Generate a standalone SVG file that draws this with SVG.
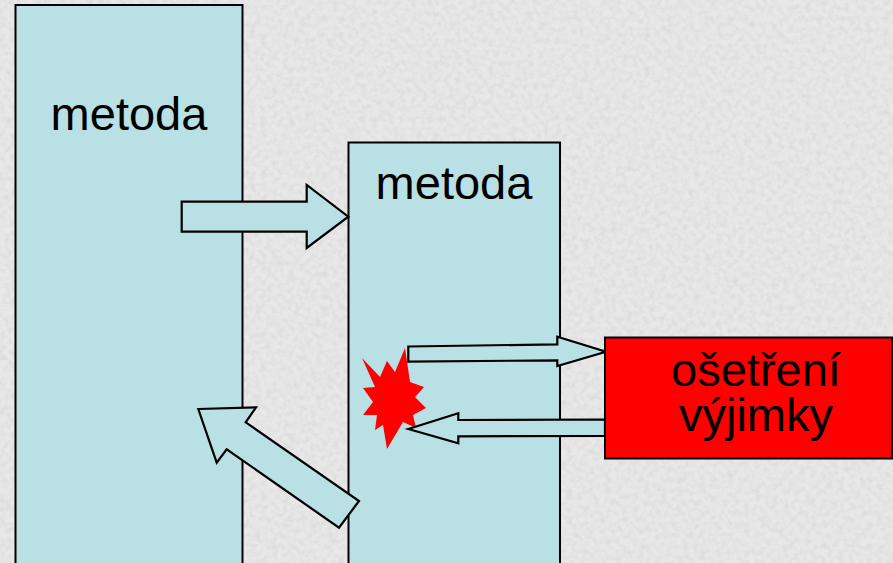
<svg xmlns="http://www.w3.org/2000/svg" width="893" height="563" viewBox="0 0 893 563">
  <defs>
    <filter id="granite" x="0" y="0" width="100%" height="100%" filterUnits="userSpaceOnUse">
      <feTurbulence type="fractalNoise" baseFrequency="0.18" numOctaves="3" seed="7"/>
      <feColorMatrix type="matrix" values="0 0 0 0 0.55  0 0 0 0 0.55  0 0 0 0 0.55  1.4 0 0 0 -0.52"/>
    </filter>
    <style>
      .box { fill: #b9e0e4; stroke: #000; stroke-width: 2; }
      .err { fill: #ff0000; stroke: #000; stroke-width: 2; }
      .arrow { fill: #b9e0e4; stroke: #000; stroke-width: 2.2; stroke-linejoin: miter; }
      .lbl { font-family: "Liberation Sans", Arial, sans-serif; font-size: 47px; fill: #000; text-anchor: middle; }
    </style>
  </defs>

  <rect x="0" y="0" width="893" height="563" fill="#e8e8e8"/>
  <rect x="0" y="0" width="893" height="563" filter="url(#granite)" opacity="0.5"/>

  <g id="metoda1">
    <rect class="box" x="15.5" y="5" width="227" height="570"/>
    <text class="lbl" x="129" y="129.5">metoda</text>
  </g>

  <g id="metoda2">
    <rect class="box" x="348.5" y="142.5" width="211.5" height="440"/>
    <text class="lbl" x="454" y="198.5">metoda</text>
  </g>

  <g id="explosion">
    <polygon fill="#ff0000" points="405,348 410,382 424,387 415,397 426,408 413,415 416,428 403,422 387,449 383,425 375,430 377,415 363,415 373,402 363,388 375,387 362,358 380,377 387,361 395,372"/>
  </g>

  <g id="connectors">
    <polygon class="arrow" points="181.7,201.7 306.7,201.7 306.7,185 348.3,216.7 306.7,248 306.7,231.7 181.7,231.7"/>
    <polygon class="arrow" points="408.3,346.5 557.3,344.3 557.3,336.7 606,351.7 557.3,366 557.3,360.3 408.3,361.7"/>
    <polygon class="arrow" points="408.3,429 458.3,413.3 458.3,420 605,419.5 605,436 458.3,436.3 458.3,443.3"/>
    <polygon class="arrow" points="198.3,409 256,407.3 245.7,422.3 359,501 339,527.7 226.7,449.3 216.7,462.7"/>
  </g>

  <g id="osetreni">
    <rect class="err" x="605" y="337.5" width="287" height="121"/>
    <text class="lbl"><tspan x="756" y="385.5">ošetření</tspan><tspan x="756" y="431">výjimky</tspan></text>
  </g>
</svg>
